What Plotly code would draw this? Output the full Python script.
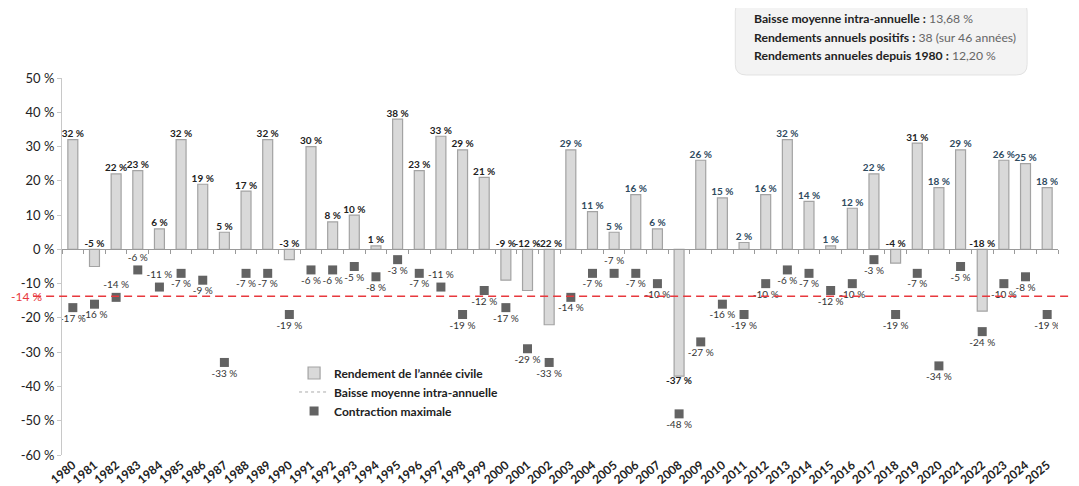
import plotly.graph_objects as go

years = list(range(1980, 2026))
annual_return = [32, -5, 22, 23, 6, 32, 19, 5, 17, 32,
                 -3, 30, 8, 10, 1, 38, 23, 33, 29, 21,
                 -9, -12, -22, 29, 11, 5, 16, 6, -37, 26,
                 15, 2, 16, 32, 14, 1, 12, 22, -4, 31,
                 18, 29, -18, 26, 25, 18]
max_drawdown = [-17, -16, -14, -6, -11, -7, -9, -33, -7, -7,
                -19, -6, -6, -5, -8, -3, -7, -11, -19, -12,
                -17, -29, -33, -14, -7, -7, -7, -10, -48, -27,
                -16, -19, -10, -6, -7, -12, -10, -3, -19, -7,
                -34, -5, -24, -10, -8, -19]
avg_drawdown = -13.68
y_ticks = [50, 40, 30, 20, 10, 0, -10, -20, -30, -40, -50, -60]

# style helpers
blue_label_years = [2003, 2004, 2005, 2006, 2007, 2009, 2010, 2011, 2012, 2013,
                    2014, 2015, 2016, 2017, 2020, 2021, 2023, 2024, 2025]
dd_label_above = [1982, 1983, 1984, 1997, 2005]
FONT = "Lato"
RED = "#e8383d"

bar_lbl_y = [v if (v > 0 or v < -30) else 0 for v in annual_return]
bar_lbl_pos = ["bottom center" if v < -30 else "top center" for v in annual_return]
bar_lbl_col = ["#2f4b5f" if y in blue_label_years else "#222222" for y in years]
dd_pos = ["top center" if y in dd_label_above else "bottom center" for y in years]

fig = go.Figure()
fig.add_trace(go.Bar(
    x=years, y=annual_return, name="Rendement de l’année civile",
    width=0.46, marker=dict(color="#d9d9d9", line=dict(color="#a3a3a3", width=1.2)),
))
fig.add_trace(go.Scatter(
    x=[None], y=[None], mode="lines", name="Baisse moyenne intra-annuelle",
    line=dict(color="#aaaaaa", width=1, dash="dot"),
))
fig.add_trace(go.Scatter(
    x=years, y=max_drawdown, mode="markers+text", name="Contraction maximale",
    marker=dict(symbol="square", size=9, color="#636363"),
    text=[f"{v} %" for v in max_drawdown], textposition=dd_pos,
    textfont=dict(family=FONT, size=10, color="#333333"),
))
fig.add_trace(go.Scatter(
    x=years, y=bar_lbl_y, mode="text", showlegend=False,
    text=[f"{v} %" for v in annual_return], textposition=bar_lbl_pos,
    textfont=dict(family=FONT, size=10, color=bar_lbl_col, weight="bold"),
))

# average drawdown line across the whole width
fig.add_shape(type="line", xref="paper", yref="y", x0=-0.029, x1=1.03,
              y0=avg_drawdown, y1=avg_drawdown,
              line=dict(color=RED, width=1.5, dash="8px,5px"))
fig.add_annotation(xref="paper", yref="y", x=-0.053, y=avg_drawdown,
                   xanchor="left", yanchor="middle", showarrow=False,
                   text=f"{round(avg_drawdown)} %",
                   font=dict(family=FONT, size=12, color=RED))

# info box (rounded)
x0, x1, y0, y1 = 0.676, 0.969, 1.008, 1.205
rx, ry = 0.011, 0.028
path = (f"M {x0+rx},{y0} L {x1-rx},{y0} Q {x1},{y0} {x1},{y0+ry} "
        f"L {x1},{y1-ry} Q {x1},{y1} {x1-rx},{y1} L {x0+rx},{y1} "
        f"Q {x0},{y1} {x0},{y1-ry} L {x0},{y0+ry} Q {x0},{y0} {x0+rx},{y0} Z")
fig.add_shape(type="path", xref="paper", yref="paper", path=path,
              fillcolor="#f3f3f3", line=dict(color="#e2e2e2", width=1), layer="below")
info = [("Baisse moyenne intra-annuelle :", "13,68 %"),
        ("Rendements annuels positifs :", "38 (sur 46 années)"),
        ("Rendements annueles depuis 1980 :", "12,20 %")]
for i, (lab, val) in enumerate(info):
    fig.add_annotation(xref="paper", yref="paper", x=0.693, y=1.1565 - i * 0.0478,
                       xanchor="left", yanchor="middle", showarrow=False,
                       text=f"<b>{lab}</b> <span style='color:#666666'>{val}</span>",
                       font=dict(family=FONT, size=12.2, color="#222222"))

# page body adds 8px around the figure, so margins are trimmed by that much
fig.update_layout(
    width=1071, height=478,
    margin=dict(l=54, r=21, t=70, b=31, autoexpand=False),
    paper_bgcolor="white", plot_bgcolor="white",
    font=dict(family=FONT, size=12, color="#222222"),
    bargap=0.5,
    legend=dict(x=0.233, y=0.256, xanchor="left", yanchor="top",
                bgcolor="rgba(0,0,0,0)",
                font=dict(family=FONT, size=12, color="#222222", weight="bold")),
    xaxis=dict(range=[years[0] - 0.5, years[-1] + 0.5], tickvals=years,
               ticktext=[str(y) for y in years], tickangle=-40, automargin=False,
               showgrid=False, zeroline=False, showline=False, ticks="",
               tickfont=dict(family=FONT, size=12, color="#222222", weight="bold")),
    xaxis2=dict(overlaying="x", anchor="free", position=60 / 110,
                range=[years[0] - 0.5, years[-1] + 0.5], automargin=False,
                tickvals=[y - 0.5 for y in years] + [years[-1] + 0.5],
                showticklabels=False, ticks="outside", ticklen=4, tickcolor="#9a9a9a",
                showline=True, linecolor="#9a9a9a", linewidth=1, showgrid=False,
                zeroline=False),
    yaxis=dict(range=[-60, 50], tickvals=y_ticks, ticktext=[f"{v} %" for v in y_ticks],
               showgrid=False, zeroline=False, showline=True, linecolor="#c8c8c8",
               ticks="outside", ticklen=4, tickcolor="#c8c8c8", automargin=False,
               tickfont=dict(family=FONT, size=13, color="#222222")),
)
# dummy trace to show the boundary-tick axis at y=0
fig.add_trace(go.Scatter(x=[None], y=[None], xaxis="x2", showlegend=False))

fig.write_html("out.html")
